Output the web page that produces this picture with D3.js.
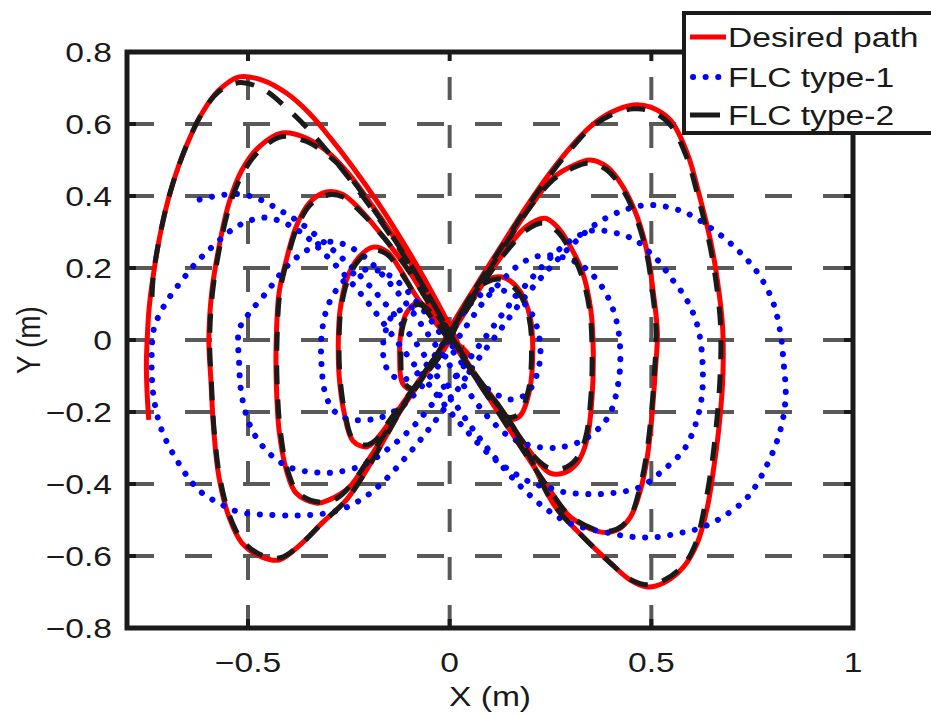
<!DOCTYPE html>
<html>
<head>
<meta charset="utf-8">
<script src="https://cdn.jsdelivr.net/npm/d3@7"></script>
<style>
  body { margin: 0; background: #fff; }
  svg text { font-family: "Liberation Sans", Arial, sans-serif; fill: #1a1a1a; }
</style>
</head>
<body>
<div id="chart"></div>
<script>
// tick values and legend labels
const xTicks = [-0.5, 0, 0.5, 1];
const yTicks = [-0.8, -0.6, -0.4, -0.2, 0, 0.2, 0.4, 0.6, 0.8];
const legendLabels = ["Desired path", "FLC type-1", "FLC type-2"];

// desired path (x / y in metres)
const desiredPath = [
  [-0.746,-0.222],[-0.75,-0.15],[-0.752,-0.07],[-0.75,0.0],[-0.745,0.09],[-0.734,0.186],[-0.714,0.314],
  [-0.689,0.425],[-0.654,0.536],[-0.614,0.63],[-0.572,0.694],[-0.522,0.731],[-0.465,0.722],[-0.405,0.686],
  [-0.348,0.63],[-0.295,0.56],[-0.24,0.48],[-0.18,0.385],[-0.12,0.28],[-0.06,0.165],[0,0.04],
  [0.057,-0.092],[0.142,-0.214],[0.19,-0.306],[0.26,-0.46],[0.331,-0.547],[0.398,-0.619],[0.448,-0.667],
  [0.49,-0.686],[0.53,-0.675],[0.58,-0.63],[0.614,-0.564],[0.639,-0.464],[0.654,-0.361],[0.667,-0.25],
  [0.677,-0.111],[0.677,0.03],[0.668,0.131],[0.65,0.258],[0.622,0.389],[0.589,0.519],[0.547,0.611],
  [0.498,0.647],[0.455,0.653],[0.398,0.631],[0.348,0.592],[0.3,0.536],[0.25,0.466],[0.19,0.37],
  [0.13,0.265],[0.065,0.15],[0,0.03],
  [-0.025,-0.028],[-0.092,-0.139],[-0.149,-0.25],[-0.206,-0.361],[-0.256,-0.444],[-0.316,-0.508],
  [-0.366,-0.564],[-0.423,-0.611],[-0.465,-0.603],[-0.515,-0.564],[-0.547,-0.492],[-0.572,-0.381],
  [-0.585,-0.25],[-0.592,-0.111],[-0.597,0.0],[-0.59,0.131],[-0.572,0.258],[-0.547,0.381],[-0.515,0.472],
  [-0.473,0.536],[-0.415,0.575],[-0.356,0.561],[-0.299,0.519],[-0.249,0.46],[-0.19,0.37],[-0.12,0.255],
  [-0.055,0.135],[0,0.02],
  [0.05,-0.08],[0.12,-0.2],[0.19,-0.32],[0.25,-0.42],[0.3,-0.492],[0.373,-0.533],[0.415,-0.528],
  [0.448,-0.492],[0.473,-0.417],[0.49,-0.325],[0.502,-0.203],[0.51,-0.083],[0.515,0.02],[0.505,0.131],
  [0.49,0.242],[0.465,0.342],[0.43,0.425],[0.39,0.481],[0.348,0.5],[0.3,0.481],[0.256,0.45],[0.2,0.37],
  [0.135,0.26],[0.065,0.135],[0,0.02],
  [-0.05,-0.075],[-0.1,-0.16],[-0.149,-0.24],[-0.2,-0.33],[-0.25,-0.41],[-0.299,-0.444],[-0.331,-0.453],
  [-0.381,-0.425],[-0.405,-0.361],[-0.423,-0.25],[-0.43,-0.111],[-0.43,0.0],[-0.423,0.131],[-0.405,0.222],
  [-0.381,0.314],[-0.348,0.381],[-0.306,0.411],[-0.266,0.405],[-0.22,0.36],[-0.16,0.28],[-0.1,0.19],
  [-0.05,0.1],[0,0.02],
  [0.06,-0.09],[0.12,-0.18],[0.18,-0.28],[0.22,-0.34],[0.249,-0.37],[0.281,-0.37],[0.316,-0.342],
  [0.34,-0.278],[0.353,-0.158],[0.356,-0.028],[0.35,0.083],[0.33,0.186],[0.3,0.258],[0.27,0.31],
  [0.236,0.338],[0.19,0.315],[0.14,0.25],[0.09,0.17],[0.04,0.08],[0,0.01],
  [-0.04,-0.06],[-0.1,-0.15],[-0.15,-0.23],[-0.185,-0.28],[-0.206,-0.297],[-0.24,-0.28],[-0.262,-0.2],
  [-0.274,-0.1],[-0.276,0.0],[-0.272,0.08],[-0.255,0.17],[-0.225,0.23],[-0.19,0.258],[-0.155,0.245],
  [-0.125,0.2],[-0.085,0.125],[-0.04,0.055],[0,0.0],
  [0.04,-0.06],[0.09,-0.14],[0.125,-0.2],[0.15,-0.22],[0.175,-0.21],[0.198,-0.14],[0.206,-0.03],
  [0.2,0.06],[0.175,0.135],[0.13,0.175],[0.09,0.165],[0.05,0.12],[0.02,0.05],[0,0.0],
  [-0.032,-0.056],[-0.067,-0.103],[-0.092,-0.139],[-0.117,-0.12],[-0.124,-0.047],[-0.12,0.028],
  [-0.107,0.075],[-0.082,0.103],[-0.057,0.092],[-0.032,0.056],[0,0.0],[0.03,-0.02],[0.05,-0.045]
];

// FLC type-1 response
const flcType1 = [
  [-0.62,0.39],[-0.57,0.402],[-0.52,0.405],[-0.47,0.39],[-0.42,0.36],[-0.37,0.325],[-0.31,0.27],
  [-0.25,0.21],[-0.19,0.14],[-0.13,0.06],[-0.07,-0.03],[-0.02,-0.12],[0.04,-0.22],[0.1,-0.31],
  [0.17,-0.4],[0.24,-0.47],[0.3,-0.51],[0.39,-0.535],[0.455,-0.547],[0.515,-0.547],[0.572,-0.536],
  [0.622,-0.522],[0.679,-0.49],[0.739,-0.436],[0.789,-0.342],[0.82,-0.25],[0.833,-0.158],[0.828,-0.064],
  [0.82,0.02],[0.8,0.11],[0.764,0.186],[0.714,0.25],[0.654,0.306],[0.58,0.356],[0.497,0.375],
  [0.43,0.36],[0.36,0.32],[0.3,0.26],[0.24,0.19],[0.18,0.11],[0.12,0.02],[0.06,-0.07],[0,-0.17],
  [-0.06,-0.26],[-0.12,-0.34],[-0.17,-0.4],[-0.21,-0.436],[-0.26,-0.467],[-0.31,-0.482],[-0.37,-0.487],
  [-0.44,-0.486],[-0.522,-0.478],[-0.572,-0.453],[-0.622,-0.417],[-0.672,-0.342],[-0.714,-0.25],
  [-0.734,-0.158],[-0.739,-0.064],[-0.734,0.028],[-0.72,0.07],[-0.697,0.115],[-0.664,0.165],
  [-0.629,0.214],[-0.597,0.25],[-0.565,0.283],[-0.535,0.31],[-0.5,0.33],[-0.46,0.34],[-0.42,0.33],
  [-0.37,0.3],[-0.32,0.25],[-0.26,0.18],[-0.2,0.1],[-0.14,0.01],[-0.08,-0.08],[-0.02,-0.17],
  [0.04,-0.25],[0.1,-0.32],[0.16,-0.37],[0.21,-0.4],[0.249,-0.411],[0.281,-0.422],[0.341,-0.428],
  [0.405,-0.425],[0.473,-0.408],[0.53,-0.361],[0.58,-0.306],[0.608,-0.24],[0.625,-0.158],[0.627,-0.064],
  [0.617,0.028],[0.597,0.092],[0.572,0.139],[0.547,0.175],[0.522,0.214],[0.497,0.242],[0.47,0.27],
  [0.44,0.288],[0.4,0.3],[0.36,0.305],[0.32,0.29],[0.27,0.25],[0.21,0.18],[0.15,0.1],[0.09,0.01],
  [0.03,-0.08],[-0.03,-0.16],[-0.09,-0.24],[-0.15,-0.3],[-0.21,-0.345],[-0.28,-0.367],[-0.34,-0.367],
  [-0.398,-0.353],[-0.448,-0.314],[-0.49,-0.25],[-0.515,-0.158],[-0.522,-0.064],[-0.522,0.028],
  [-0.5,0.07],[-0.455,0.131],[-0.405,0.203],[-0.36,0.245],[-0.31,0.272],[-0.26,0.265],[-0.21,0.23],
  [-0.15,0.16],[-0.1,0.09],[-0.05,0.01],[0,-0.07],[0.05,-0.15],[0.1,-0.22],[0.15,-0.27],[0.2,-0.293],
  [0.249,-0.3],[0.281,-0.297],[0.331,-0.278],[0.373,-0.242],[0.398,-0.203],[0.415,-0.139],[0.423,-0.064],
  [0.418,0.028],[0.4,0.1],[0.37,0.16],[0.33,0.205],[0.28,0.23],[0.23,0.235],[0.18,0.215],[0.13,0.165],
  [0.08,0.1],[0.03,0.02],[-0.02,-0.06],[-0.07,-0.13],[-0.12,-0.185],[-0.17,-0.215],[-0.206,-0.222],
  [-0.25,-0.22],[-0.281,-0.203],[-0.306,-0.158],[-0.318,-0.064],[-0.316,0.028],[-0.3,0.1],[-0.27,0.155],
  [-0.23,0.19],[-0.19,0.195],[-0.15,0.18],[-0.1,0.13],[-0.05,0.06],[0,-0.02],[0.05,-0.09],[0.1,-0.14],
  [0.15,-0.165],[0.19,-0.15],[0.215,-0.1],[0.225,-0.04],[0.22,0.02],[0.2,0.08],[0.16,0.125],[0.11,0.14],
  [0.07,0.12],[0.03,0.07],[-0.01,0.0],[-0.05,-0.06],[-0.09,-0.1],[-0.12,-0.11],[-0.15,-0.09],
  [-0.165,-0.04],[-0.16,0.02],[-0.14,0.07],[-0.1,0.09],[-0.06,0.08]
];

// FLC type-2 response (close to the desired path, cuts some corners)
const flcType2 = [
  [-0.738,0.12],[-0.734,0.186],[-0.714,0.314],[-0.689,0.425],[-0.654,0.536],[-0.614,0.63],[-0.572,0.69],
  [-0.52,0.715],[-0.46,0.695],[-0.4,0.64],[-0.35,0.585],[-0.3,0.52],[-0.25,0.45],[-0.19,0.36],
  [-0.12,0.245],[-0.055,0.13],[0,0.02],
  [0.057,-0.092],[0.142,-0.214],[0.19,-0.306],[0.26,-0.46],[0.331,-0.547],[0.398,-0.619],[0.448,-0.665],
  [0.49,-0.68],[0.53,-0.668],[0.58,-0.625],[0.61,-0.564],[0.632,-0.464],[0.648,-0.361],[0.66,-0.25],
  [0.67,-0.111],[0.672,0.03],[0.664,0.131],[0.646,0.258],[0.618,0.389],[0.585,0.515],[0.545,0.6],
  [0.498,0.636],[0.455,0.642],[0.398,0.624],[0.348,0.588],[0.3,0.53],[0.25,0.46],[0.19,0.365],
  [0.13,0.26],[0.065,0.145],[0,0.02],
  [-0.025,-0.028],[-0.092,-0.139],[-0.149,-0.25],[-0.206,-0.361],[-0.256,-0.444],[-0.316,-0.508],
  [-0.366,-0.564],[-0.42,-0.605],[-0.465,-0.598],[-0.512,-0.56],[-0.545,-0.49],[-0.57,-0.381],
  [-0.584,-0.25],[-0.591,-0.111],[-0.595,0.0],[-0.588,0.131],[-0.57,0.258],[-0.545,0.375],[-0.512,0.465],
  [-0.47,0.528],[-0.415,0.565],[-0.356,0.552],[-0.3,0.512],[-0.249,0.455],[-0.19,0.365],[-0.12,0.25],
  [-0.055,0.13],[0,0.02],
  [0.05,-0.08],[0.12,-0.2],[0.19,-0.32],[0.25,-0.42],[0.3,-0.49],[0.373,-0.53],[0.415,-0.525],
  [0.448,-0.49],[0.47,-0.417],[0.487,-0.325],[0.5,-0.203],[0.508,-0.083],[0.512,0.02],[0.503,0.131],
  [0.488,0.242],[0.463,0.338],[0.428,0.42],[0.388,0.474],[0.345,0.492],[0.3,0.475],[0.256,0.445],
  [0.2,0.37],[0.135,0.26],[0.065,0.135],[0,0.02],
  [-0.05,-0.075],[-0.1,-0.16],[-0.149,-0.24],[-0.2,-0.33],[-0.25,-0.41],[-0.28,-0.44],[-0.325,-0.45],
  [-0.375,-0.425],[-0.402,-0.361],[-0.42,-0.25],[-0.428,-0.111],[-0.428,0.0],[-0.421,0.131],[-0.403,0.222],
  [-0.379,0.31],[-0.346,0.375],[-0.306,0.402],[-0.266,0.398],[-0.22,0.355],[-0.16,0.28],[-0.1,0.19],
  [-0.05,0.1],[0,0.02],
  [0.06,-0.09],[0.12,-0.18],[0.18,-0.28],[0.215,-0.33],[0.245,-0.355],[0.28,-0.357],[0.312,-0.333],
  [0.336,-0.275],[0.35,-0.158],[0.353,-0.028],[0.347,0.083],[0.327,0.18],[0.298,0.25],[0.268,0.3],
  [0.232,0.325],[0.19,0.305],[0.14,0.245],[0.09,0.17],[0.04,0.08],[0,0.01],
  [-0.04,-0.06],[-0.1,-0.15],[-0.15,-0.225],[-0.18,-0.275],[-0.21,-0.292],[-0.24,-0.275],[-0.26,-0.2],
  [-0.272,-0.1],[-0.274,0.0],[-0.27,0.08],[-0.253,0.165],[-0.225,0.222],[-0.19,0.25],[-0.155,0.238],
  [-0.125,0.195],[-0.085,0.125],[-0.04,0.055],[0,0.0],
  [0.04,-0.06],[0.09,-0.14],[0.12,-0.195],[0.148,-0.215],[0.172,-0.205],[0.195,-0.14],[0.203,-0.03],
  [0.197,0.06],[0.172,0.13],[0.13,0.168],[0.09,0.16],[0.05,0.118],[0.02,0.05],[0,0.0],
  [-0.032,-0.056],[-0.067,-0.103],[-0.09,-0.135],[-0.114,-0.118],[-0.121,-0.047],[-0.118,0.028],
  [-0.105,0.072],[-0.082,0.098],[-0.057,0.088],[-0.032,0.054],[0,0.0],[0.035,-0.02]
];

const width = 931, height = 715;
const plotLeft = 127, plotRight = 853, plotTop = 52, plotBottom = 628;

const svg = d3.select("#chart").append("svg")
  .attr("width", width)
  .attr("height", height);

const x = d3.scaleLinear().domain([-0.8, 1]).range([plotLeft, plotRight]);
const y = d3.scaleLinear().domain([-0.8, 0.8]).range([plotBottom, plotTop]);
const fmt = d3.format("");
const sx = 1.2; // the picture is stretched a bit horizontally

// grid (dashed, dark grey)
svg.append("g").selectAll("line")
  .data(xTicks.filter(d => d < 1))
  .join("line")
  .attr("x1", d => x(d)).attr("x2", d => x(d))
  .attr("y1", plotBottom).attr("y2", plotTop)
  .attr("stroke", "#595959").attr("stroke-width", 4)
  .attr("stroke-dasharray", "23,25");

svg.append("g").selectAll("line")
  .data(yTicks.filter(d => Math.abs(d) < 0.8))
  .join("line")
  .attr("x1", plotLeft).attr("x2", plotRight)
  .attr("y1", d => y(d)).attr("y2", d => y(d))
  .attr("stroke", "#595959").attr("stroke-width", 4)
  .attr("stroke-dasharray", "27,31");

// curves
const line = d3.line()
  .x(d => x(d[0]))
  .y(d => y(d[1]))
  .curve(d3.curveCatmullRom.alpha(0.5));

const plot = svg.append("g");

plot.append("path")
  .attr("d", line(desiredPath))
  .attr("fill", "none")
  .attr("stroke", "#ff0000")
  .attr("stroke-width", 5)
  .attr("stroke-linejoin", "round");

plot.append("path")
  .attr("d", line(flcType1))
  .attr("fill", "none")
  .attr("stroke", "#0000ff")
  .attr("stroke-width", 6)
  .attr("stroke-linecap", "round")
  .attr("stroke-dasharray", "0.1,12.5");

plot.append("path")
  .attr("d", line(flcType2))
  .attr("fill", "none")
  .attr("stroke", "#1a1a1a")
  .attr("stroke-width", 5)
  .attr("stroke-dasharray", "19,15");

// axes box and inward ticks
svg.append("rect")
  .attr("x", plotLeft).attr("y", plotTop)
  .attr("width", plotRight - plotLeft).attr("height", plotBottom - plotTop)
  .attr("fill", "none").attr("stroke", "#1a1a1a").attr("stroke-width", 5);

const ticks = svg.append("g").attr("stroke", "#1a1a1a").attr("stroke-width", 4);
xTicks.filter(d => d < 1).forEach(d => {
  ticks.append("line").attr("x1", x(d)).attr("x2", x(d)).attr("y1", plotBottom).attr("y2", plotBottom - 9);
  ticks.append("line").attr("x1", x(d)).attr("x2", x(d)).attr("y1", plotTop).attr("y2", plotTop + 9);
});
yTicks.filter(d => Math.abs(d) < 0.8).forEach(d => {
  ticks.append("line").attr("x1", plotLeft).attr("x2", plotLeft + 9).attr("y1", y(d)).attr("y2", y(d));
  ticks.append("line").attr("x1", plotRight).attr("x2", plotRight - 9).attr("y1", y(d)).attr("y2", y(d));
});

// tick labels
svg.append("g").selectAll("text")
  .data(xTicks)
  .join("text")
  .attr("transform", d => `translate(${x(d)},672) scale(${sx},1)`)
  .attr("text-anchor", "middle")
  .style("font-size", "28px")
  .text(d => fmt(d));

svg.append("g").selectAll("text")
  .data(yTicks)
  .join("text")
  .attr("transform", d => `translate(112,${y(d) + 10}) scale(${sx},1)`)
  .attr("text-anchor", "end")
  .style("font-size", "28px")
  .text(d => fmt(d));

// axis titles
svg.append("text")
  .attr("transform", `translate(${(plotLeft + plotRight) / 2},706) scale(${sx},1)`)
  .attr("text-anchor", "middle")
  .style("font-size", "28px")
  .text("X (m)");

svg.append("text")
  .attr("transform", `translate(40,${(plotTop + plotBottom) / 2}) scale(${sx},1) rotate(-90)`)
  .attr("text-anchor", "middle")
  .style("font-size", "28px")
  .text("Y (m)");

// legend
const legend = svg.append("g");
legend.append("rect")
  .attr("x", 684).attr("y", 13)
  .attr("width", 300).attr("height", 120)
  .attr("fill", "#fff").attr("stroke", "#1a1a1a").attr("stroke-width", 4);

const legendRows = [37, 77, 115];
legend.append("line").attr("x1", 690).attr("x2", 726).attr("y1", legendRows[0]).attr("y2", legendRows[0])
  .attr("stroke", "#ff0000").attr("stroke-width", 5);
legend.append("line").attr("x1", 693).attr("x2", 726).attr("y1", legendRows[1]).attr("y2", legendRows[1])
  .attr("stroke", "#0000ff").attr("stroke-width", 6)
  .attr("stroke-linecap", "round").attr("stroke-dasharray", "0.1,12.5");
legend.append("line").attr("x1", 690).attr("x2", 720).attr("y1", legendRows[2]).attr("y2", legendRows[2])
  .attr("stroke", "#1a1a1a").attr("stroke-width", 5);

legend.selectAll("text.lab")
  .data(legendLabels)
  .join("text")
  .attr("class", "lab")
  .attr("transform", (d, i) => `translate(728,${legendRows[i] + 10}) scale(${sx},1)`)
  .style("font-size", "28px")
  .text(d => d);
</script>
</body>
</html>
